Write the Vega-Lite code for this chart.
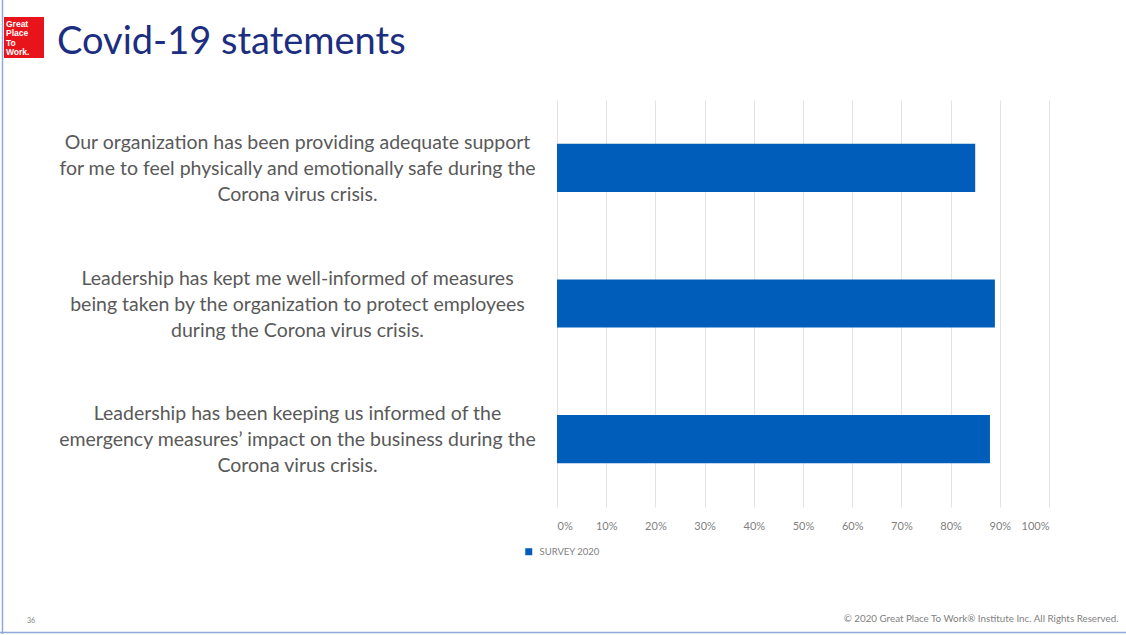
{
  "$schema": "https://vega.github.io/schema/vega-lite/v6.json",
  "autosize": {"type": "none"},
  "width": 492,
  "height": 407,
  "padding": {"left": 557, "top": 100, "right": 77, "bottom": 128},
  "background": "white",
  "title": {
    "text": "Covid-19 statements",
    "anchor": "start",
    "frame": "group",
    "orient": "top",
    "font": "Lato",
    "fontSize": 38,
    "fontWeight": "normal",
    "color": "#1c2e80",
    "baseline": "alphabetic",
    "offset": 0,
    "dx": -500,
    "dy": 93
  },
  "data": {
    "values": [
      {"statement": "Our organization has been providing adequate support\nfor me to feel physically and emotionally safe during the\nCorona virus crisis.", "value": 0.85, "series": "Survey 2020"},
      {"statement": "Leadership has kept me well-informed of measures\nbeing taken by the organization to protect employees\nduring the Corona virus crisis.", "value": 0.89, "series": "Survey 2020"},
      {"statement": "Leadership has been keeping us informed of the\nemergency measures’ impact on the business during the\nCorona virus crisis.", "value": 0.88, "series": "Survey 2020"}
    ]
  },
  "layer": [
    {
      "mark": {"type": "bar", "height": {"band": 0.355}},
      "encoding": {
        "y": {
          "field": "statement",
          "type": "nominal",
          "sort": null,
          "scale": {"paddingInner": 0, "paddingOuter": 0},
          "axis": {
            "title": null,
            "labelExpr": "split(datum.label, '\\n')",
            "labelAlign": "center",
            "labelBaseline": "middle",
            "labelPadding": 260,
            "labelOffset": -25,
            "labelLimit": 0,
            "labelFont": "Lato",
            "labelFontSize": 19.5,
            "labelColor": "#595959",
            "labelLineHeight": 26,
            "ticks": false,
            "domain": false,
            "grid": false
          }
        },
        "x": {
          "field": "value",
          "type": "quantitative",
          "scale": {"domain": [0, 1], "nice": false},
          "axis": {
            "format": ".0%",
            "values": [0, 0.1, 0.2, 0.3, 0.4, 0.5, 0.6, 0.7, 0.8, 0.9, 1],
            "title": "© 2020 Great Place To Work® Institute Inc. All Rights Reserved.",
            "titleX": 561,
            "titleY": 114,
            "titleAlign": "right",
            "titleBaseline": "alphabetic",
            "titleFont": "Lato",
            "titleFontSize": 9.8,
            "titleFontWeight": "normal",
            "titleColor": "#7f7f7f",
            "labelFont": "Lato",
            "labelFontSize": 11,
            "labelColor": "#7f7f7f",
            "labelPadding": 13,
            "ticks": false,
            "domain": false,
            "grid": true,
            "gridColor": "#e3e3e3",
            "gridWidth": 1
          }
        },
        "color": {
          "field": "series",
          "type": "nominal",
          "scale": {"range": ["#005db9"]},
          "legend": {
            "title": null,
            "orient": "none",
            "legendX": -33,
            "legendY": 447,
            "symbolType": "square",
            "symbolSize": 49,
            "symbolStrokeWidth": 0,
            "labelExpr": "upper(datum.label)",
            "labelFont": "Lato",
            "labelFontSize": 9.5,
            "labelColor": "#7f7f7f",
            "labelOffset": 6
          }
        }
      }
    },
    {
      "data": {"values": [{"logo": "Great Place To Work."}]},
      "mark": {"type": "rect", "color": "#e8141c"},
      "encoding": {
        "x": {"value": -553},
        "x2": {"value": -513},
        "y": {"value": -83},
        "y2": {"value": -42}
      }
    },
    {
      "data": {"values": [{"logo": "Great\nPlace\nTo\nWork."}]},
      "mark": {"type": "text", "color": "white", "font": "Liberation Sans", "fontSize": 8.5, "fontWeight": "bold", "align": "left", "baseline": "alphabetic", "lineHeight": 9.3, "lineBreak": "\n"},
      "encoding": {
        "text": {"field": "logo"},
        "x": {"value": -551},
        "y": {"value": -73}
      }
    },
    {
      "data": {"values": [{"page": "36"}]},
      "mark": {"type": "text", "color": "#7f7f7f", "font": "Lato", "fontSize": 7, "align": "left", "baseline": "middle"},
      "encoding": {
        "text": {"field": "page"},
        "x": {"value": -530},
        "y": {"value": 521}
      }
    },
    {
      "data": {"values": [{"edge": "left"}]},
      "mark": {"type": "rule", "color": "#8eaadb", "strokeWidth": 1.5},
      "encoding": {
        "x": {"value": -554.5},
        "y": {"value": -100},
        "y2": {"value": 534}
      }
    },
    {
      "data": {"values": [{"edge": "bottom"}]},
      "mark": {"type": "rule", "color": "#8eaadb", "strokeWidth": 1.5},
      "encoding": {
        "x": {"value": -557},
        "x2": {"value": 569},
        "y": {"value": 532.5}
      }
    }
  ],
  "config": {
    "view": {"stroke": null}
  }
}
